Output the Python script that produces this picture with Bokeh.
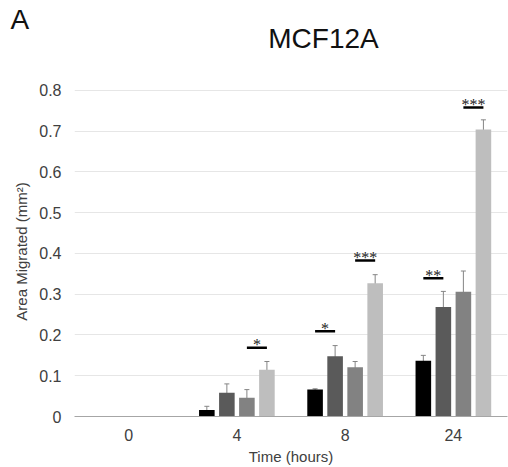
import numpy as np
from bokeh.plotting import figure
from bokeh.models import (ColumnDataSource, Range1d, FixedTicker, Whisker, TeeHead, Label)
from bokeh.embed import file_html
from bokeh.resources import INLINE

# ---- data ----
times = ["0", "4", "8", "24"]
s1 = [0.0, 0.016, 0.066, 0.137]
s2 = [0.0, 0.058, 0.148, 0.269]
s3 = [0.0, 0.046, 0.121, 0.306]
s4 = [0.0, 0.115, 0.327, 0.704]
e1 = [0.0, 0.009, 0.002, 0.013]
e2 = [0.0, 0.022, 0.026, 0.038]
e3 = [0.0, 0.020, 0.014, 0.051]
e4 = [0.0, 0.020, 0.021, 0.024]
y_ticks = [0, 0.1, 0.2, 0.3, 0.4, 0.5, 0.6, 0.7, 0.8]

# significance markers: time index, from-series, to-series, height, text
sig_time = [1, 2, 2, 3, 3]
sig_from = [2, 0, 2, 0, 2]
sig_to = [3, 1, 3, 1, 3]
sig_y = [0.169, 0.209, 0.383, 0.339, 0.758]
sig_text = ["*", "*", "***", "**", "***"]

values = [s1, s2, s3, s4]
errors = [e1, e2, e3, e4]
colors = ["#000000", "#5a5a5a", "#828282", "#bebebe"]

FONT = "Liberation Sans"
step = 0.185
bar_w = 0.144

p = figure(width=508, height=467, output_backend="svg", toolbar_location=None,
           x_range=Range1d(-0.5, 3.5), y_range=Range1d(0, 0.8098),
           min_border_left=74, min_border_right=1, min_border_top=86, min_border_bottom=51)
p.outline_line_color = None
p.background_fill_color = "white"
p.border_fill_color = "white"

idx = np.arange(len(times))
for k, (vals, errs, col) in enumerate(zip(values, errors, colors)):
    off = (k - 1.5) * step
    xs = idx + off
    src = ColumnDataSource(dict(x=xs, top=vals))
    p.vbar(x="x", top="top", width=bar_w, source=src, fill_color=col, line_color=None)
    vals_a = np.array(vals)
    errs_a = np.array(errs)
    mask = errs_a > 0
    wsrc = ColumnDataSource(dict(x=xs[mask], upper=(vals_a + errs_a)[mask], lower=(vals_a - errs_a)[mask]))
    w = Whisker(base="x", upper="upper", lower="lower", source=wsrc,
                line_color="#858585", line_width=1,
                upper_head=TeeHead(size=5, line_color="#858585", line_width=1),
                lower_head=TeeHead(size=5, line_color="#858585", line_width=1))
    p.add_layout(w)

# significance bars
sx0 = [t + (a - 1.5) * step for t, a in zip(sig_time, sig_from)]
sx1 = [t + (b - 1.5) * step for t, b in zip(sig_time, sig_to)]
ssrc = ColumnDataSource(dict(x0=sx0, x1=sx1, y=sig_y, xm=[(a + b) / 2 for a, b in zip(sx0, sx1)], txt=sig_text))
p.segment(x0="x0", y0="y", x1="x1", y1="y", source=ssrc, line_color="#000000", line_width=2.5)
p.text(x="xm", y="y", text="txt", source=ssrc, text_align="center", text_baseline="alphabetic",
       y_offset=-3, text_font_size="16px", text_color="#222222", text_font=FONT)

# axes
p.xaxis.ticker = FixedTicker(ticks=list(range(len(times))))
p.xaxis.major_label_overrides = {i: t for i, t in enumerate(times)}
p.xaxis.axis_line_color = "#a6a6a6"
p.xaxis.major_label_standoff = 12
p.xaxis.axis_label = "Time (hours)"
p.xaxis.axis_label_standoff = 4

p.yaxis.ticker = FixedTicker(ticks=y_ticks)
p.yaxis.major_label_overrides = {0: "0"}
p.yaxis.axis_line_color = None
p.yaxis.major_label_standoff = 13
p.yaxis.axis_label = "Area Migrated (mm\u00b2)"
p.yaxis.axis_label_standoff = 6

for ax in (p.xaxis, p.yaxis):
    ax.major_tick_line_color = None
    ax.minor_tick_line_color = None
    ax.major_tick_out = 0
    ax.major_tick_in = 0
    ax.minor_tick_out = 0
    ax.minor_tick_in = 0
    ax.major_label_text_font = FONT
    ax.major_label_text_font_size = "16px"
    ax.major_label_text_color = "#404040"
    ax.axis_label_text_font = FONT
    ax.axis_label_text_font_size = "15px"
    ax.axis_label_text_font_style = "normal"
    ax.axis_label_text_color = "#404040"

p.xgrid.grid_line_color = None
p.ygrid.grid_line_color = "#e6e6e6"
p.ygrid.grid_line_width = 1

title = Label(x=1.800, y=0.9276, text="MCF12A", text_font=FONT, text_font_size="28px",
              text_align="center", text_baseline="middle", text_color="#111111")
p.add_layout(title, "above")
panel = Label(x=-1.091, y=0.9742, text="A", text_font=FONT, text_font_size="28px",
              text_align="left", text_baseline="middle", text_color="#111111")
p.add_layout(panel, "above")

open("out.html", "w").write(file_html(p, INLINE))
